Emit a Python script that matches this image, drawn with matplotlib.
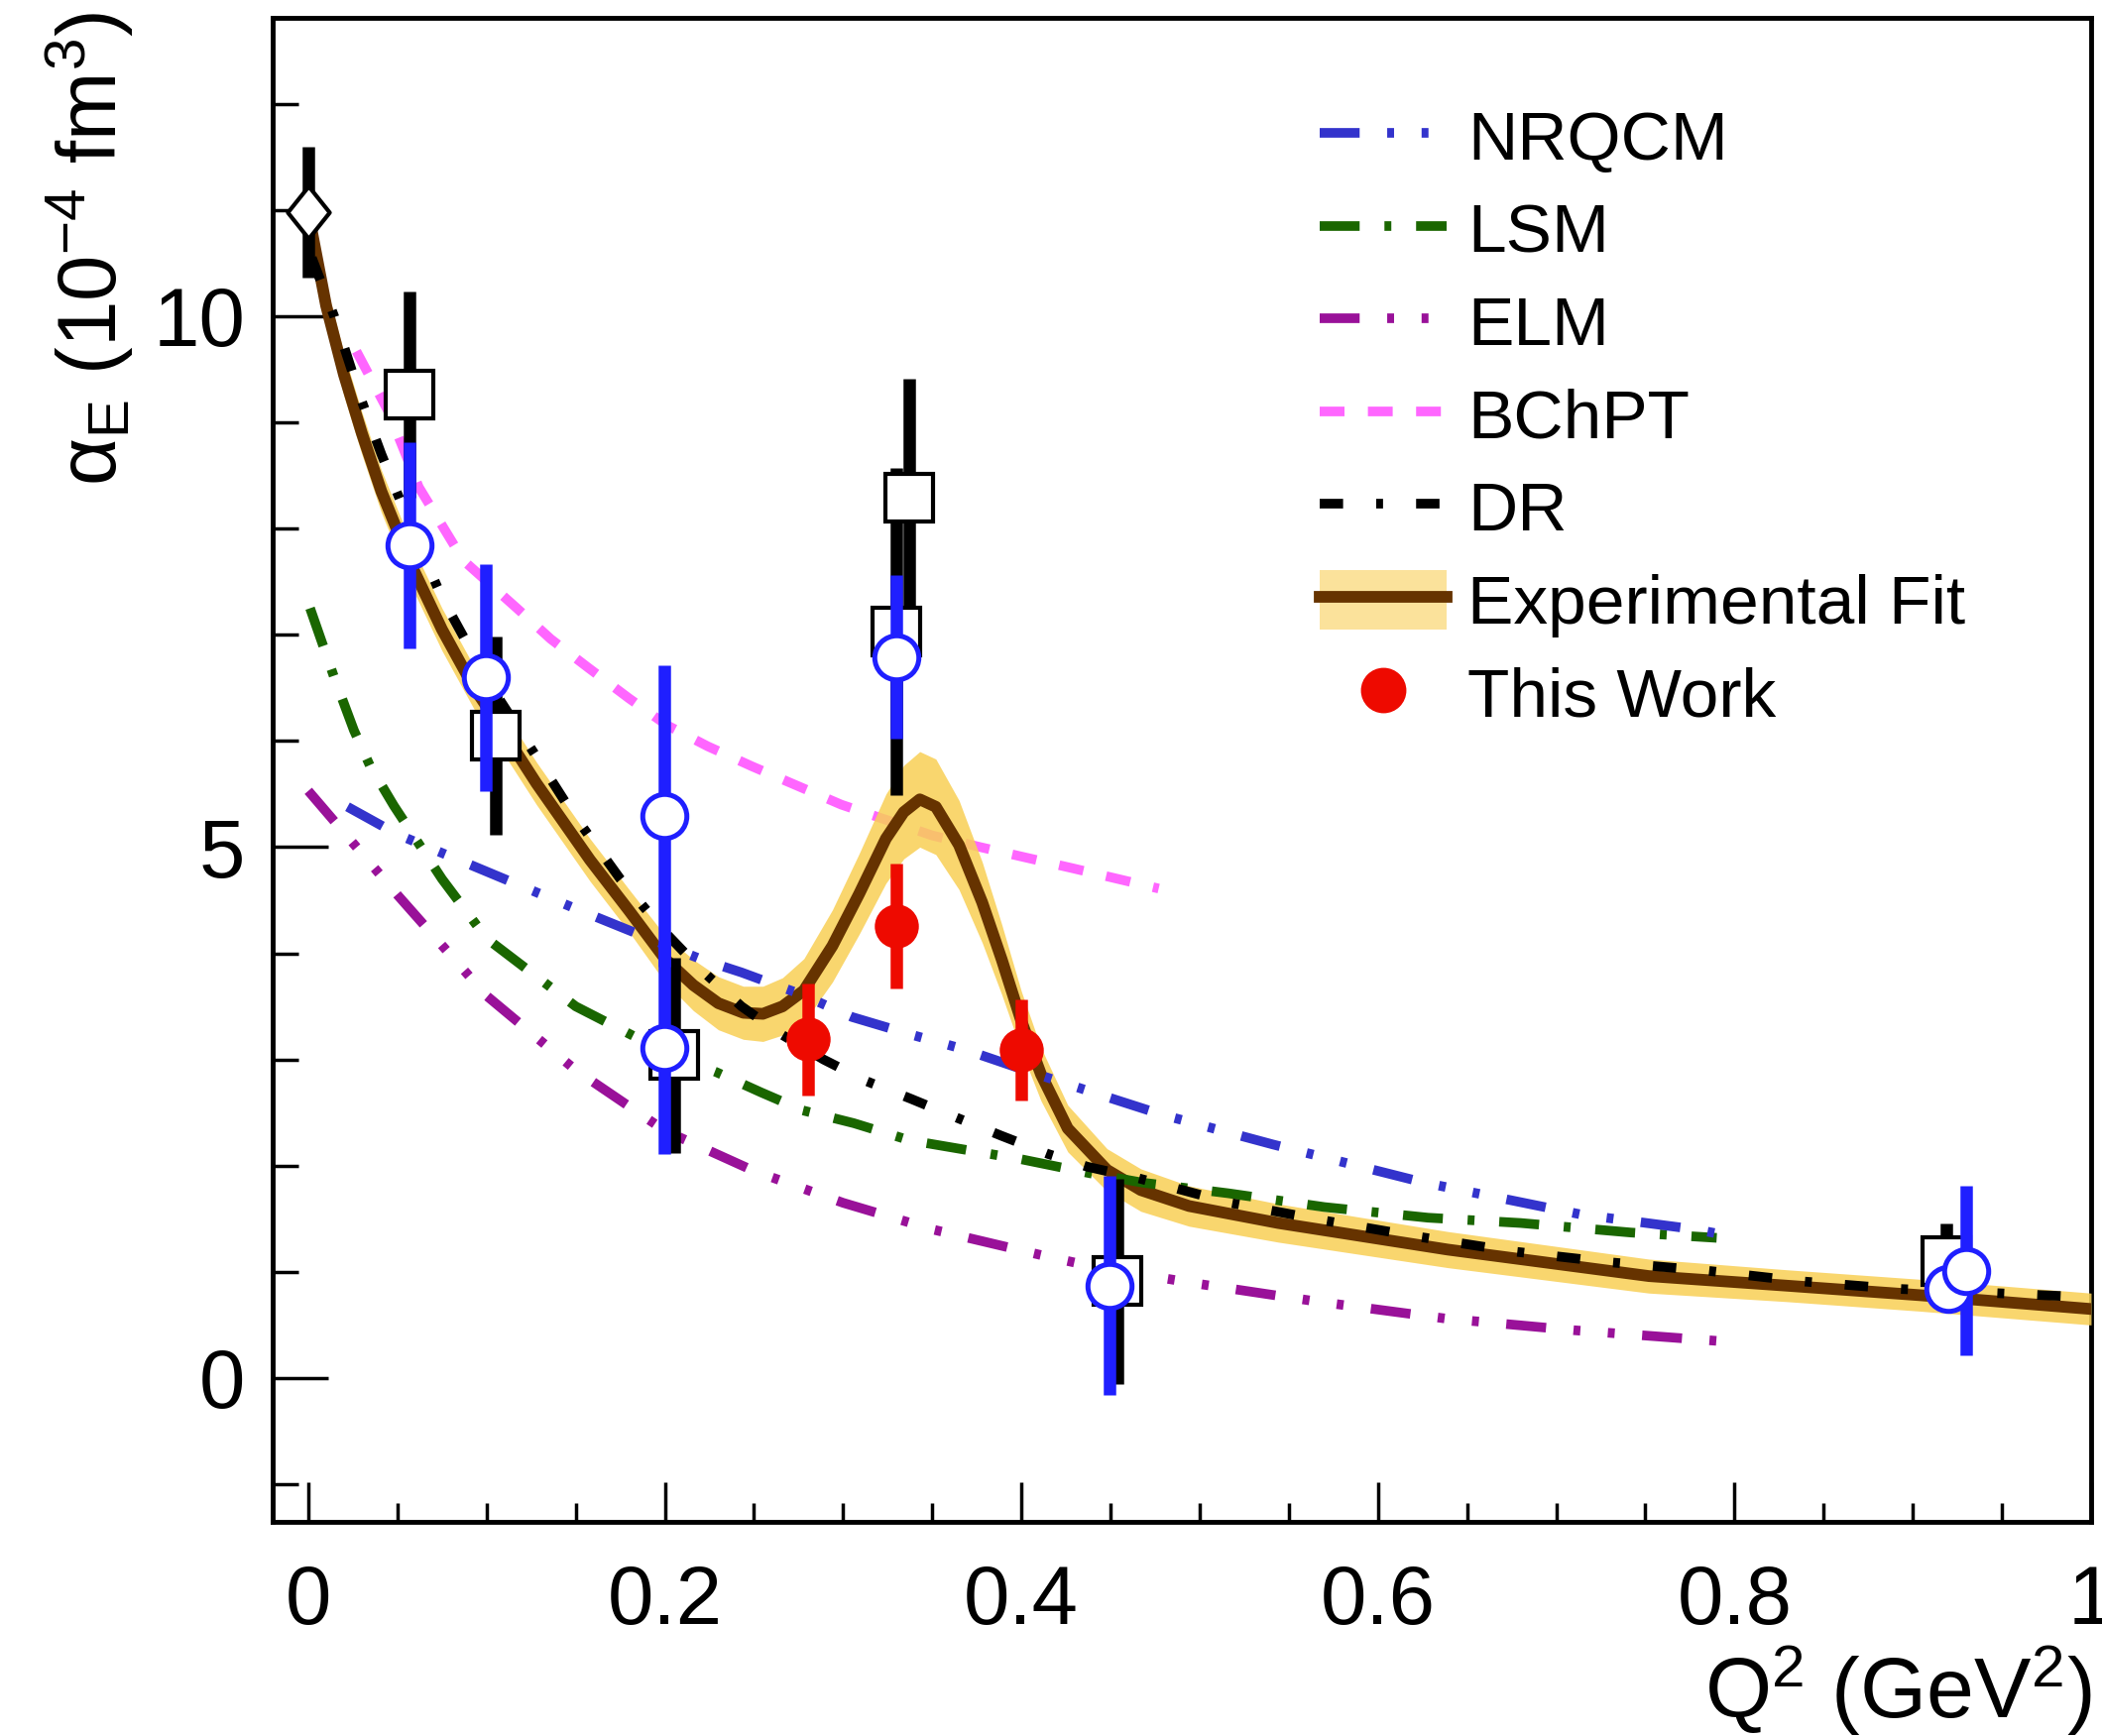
import matplotlib
matplotlib.use("Agg")
import matplotlib.pyplot as plt
from matplotlib.lines import Line2D
from matplotlib.patches import Patch
from matplotlib.ticker import MultipleLocator, FuncFormatter

plt.rcParams['font.family'] = ['Liberation Sans', 'DejaVu Sans']
plt.rcParams['mathtext.fontset'] = 'custom'
plt.rcParams['mathtext.rm'] = 'Liberation Sans'
plt.rcParams['mathtext.it'] = 'Liberation Sans'
plt.rcParams['mathtext.bf'] = 'Liberation Sans:bold'
plt.rcParams['lines.scale_dashes'] = False

# Experimental fit (line + band)
fit_q2 = [0.002, 0.010, 0.020, 0.030, 0.041, 0.058, 0.075, 0.093, 0.105, 0.128,
          0.158, 0.180, 0.200, 0.216, 0.230, 0.244, 0.255, 0.266, 0.278, 0.294,
          0.309, 0.324, 0.334, 0.343, 0.352, 0.365, 0.378, 0.389, 0.400, 0.411,
          0.426, 0.448, 0.467, 0.494, 0.544, 0.639, 0.752, 0.829, 0.904, 1.000]
fit_val = [10.80, 10.10, 9.45, 8.90, 8.35, 7.65, 7.05, 6.50, 6.20, 5.60,
           4.88, 4.40, 3.95, 3.70, 3.53, 3.44, 3.43, 3.50, 3.65, 4.07,
           4.56, 5.08, 5.33, 5.45, 5.38, 5.02, 4.48, 3.94, 3.36, 2.86,
           2.35, 1.96, 1.77, 1.62, 1.46, 1.21, 0.96, 0.87, 0.78, 0.65]
fit_err = [0.20, 0.20, 0.20, 0.20, 0.20, 0.20, 0.20, 0.20, 0.20, 0.20,
           0.20, 0.20, 0.22, 0.24, 0.25, 0.25, 0.26, 0.27, 0.30, 0.34,
           0.38, 0.42, 0.44, 0.45, 0.45, 0.42, 0.38, 0.33, 0.28, 0.25,
           0.22, 0.20, 0.20, 0.19, 0.18, 0.17, 0.16, 0.15, 0.15, 0.15]

# model curves
nrq_q2 = [0.022, 0.05, 0.10, 0.15, 0.20, 0.221, 0.243, 0.277, 0.305, 0.339,
          0.367, 0.409, 0.453, 0.479, 0.541, 0.626, 0.714, 0.778, 0.80]
nrq_val = [5.38, 5.12, 4.77, 4.42, 4.08, 3.94, 3.82, 3.61, 3.40, 3.23,
           3.10, 2.86, 2.62, 2.48, 2.20, 1.84, 1.54, 1.40, 1.33]

lsm_q2 = [0.001, 0.0145, 0.0256, 0.0345, 0.048, 0.075, 0.10, 0.15, 0.20, 0.229,
          0.254, 0.2775, 0.306, 0.337, 0.40, 0.438, 0.468, 0.516, 0.57, 0.628,
          0.68, 0.742, 0.79]
lsm_val = [7.25, 6.60, 6.10, 5.77, 5.39, 4.70, 4.14, 3.50, 3.07, 2.88,
           2.69, 2.52, 2.40, 2.24, 2.06, 1.93, 1.84, 1.74, 1.61, 1.51,
           1.46, 1.37, 1.32]

elm_q2 = [0.0, 0.05, 0.10, 0.15, 0.20, 0.25, 0.30, 0.35, 0.413, 0.44,
          0.498, 0.566, 0.638, 0.71, 0.79]
elm_val = [5.53, 4.55, 3.60, 2.90, 2.33, 1.95, 1.65, 1.40, 1.15, 1.05,
           0.89, 0.72, 0.56, 0.45, 0.35]

bch_q2 = [0.027, 0.045, 0.062, 0.087, 0.117, 0.136, 0.157, 0.18, 0.201, 0.224,
          0.249, 0.299, 0.35, 0.377, 0.429, 0.477]
bch_val = [9.67, 9.10, 8.39, 7.70, 7.25, 6.96, 6.69, 6.40, 6.15, 5.95,
           5.76, 5.40, 5.11, 5.00, 4.80, 4.61]

dr_q2 = [0.002, 0.0145, 0.030, 0.041, 0.058, 0.075, 0.093, 0.105, 0.128, 0.147,
         0.175, 0.200, 0.220, 0.243, 0.265, 0.289, 0.3125, 0.338, 0.364, 0.389,
         0.415, 0.437, 0.466, 0.517, 0.571, 0.623, 0.677, 0.730, 0.785, 0.838,
         0.891, 0.946, 1.0]
dr_val = [10.55, 10.00, 9.20, 8.70, 8.00, 7.35, 6.80, 6.45, 5.85, 5.35,
          4.70, 4.20, 3.85, 3.50, 3.24, 3.00, 2.80, 2.63, 2.45, 2.28,
          2.11, 1.99, 1.88, 1.65, 1.48, 1.33, 1.19, 1.09, 1.01, 0.91,
          0.84, 0.80, 0.76]

# data points
dia_q2 = [0.0]
dia_val = [10.98]
dia_err = [0.62]

sq_q2 = [0.057, 0.105, 0.205, 0.3298, 0.337, 0.454, 0.919]
sq_val = [9.26, 6.05, 3.04, 7.03, 8.29, 0.91, 1.10]
sq_err = [0.97, 0.93, 0.92, 1.54, 1.12, 0.97, 0.36]

circ_q2 = [0.057, 0.0996, 0.1997, 0.1997, 0.330, 0.4496, 0.9197, 0.930]
circ_val = [7.84, 6.60, 5.29, 3.11, 6.79, 0.87, 0.84, 1.01]
circ_err = [0.97, 1.07, 1.42, 1.00, 0.77, 1.03, 0.0, 0.80]

tw_q2 = [0.2803, 0.3298, 0.400]
tw_val = [3.19, 4.26, 3.09]
tw_err = [0.53, 0.59, 0.48]

# colours / styles
c_nrq = '#3333cc'
c_lsm = '#1a6600'
c_elm = '#991199'
c_bch = '#ff66ff'
c_dr = 'black'
c_fit = '#663300'
c_band = '#f8cf55'
c_red = '#ee0a00'
c_blue = '#1f1fff'

ls_nrq = (0, (29, 20, 5, 20, 5, 20))
ls_lsm = (0, (29, 18, 5, 18))
ls_elm = (0, (29, 20, 5, 20, 5, 20))
ls_bch = (0, (18, 17))
ls_dr = (0, (17, 24, 5, 24))
lw_mod = 7

fig = plt.figure(figsize=(21.2, 17.51), dpi=100)
ax = fig.add_axes([0.1297, 0.1234, 0.8651, 0.8663])

ax.plot(bch_q2, bch_val, color=c_bch, lw=lw_mod, ls=ls_bch, zorder=2)
ax.fill_between(fit_q2, [v - e for v, e in zip(fit_val, fit_err)],
                [v + e for v, e in zip(fit_val, fit_err)],
                color=c_band, alpha=0.85, lw=0, zorder=3)
ax.plot(fit_q2, fit_val, color=c_fit, lw=8.5, zorder=4)
ax.plot(lsm_q2, lsm_val, color=c_lsm, lw=lw_mod, ls=ls_lsm, zorder=5)
ax.plot(nrq_q2, nrq_val, color=c_nrq, lw=lw_mod, ls=ls_nrq, zorder=5)
ax.plot(elm_q2, elm_val, color=c_elm, lw=lw_mod, ls=ls_elm, zorder=5)
ax.plot(dr_q2, dr_val, color=c_dr, lw=lw_mod, ls=ls_dr, zorder=5)

diamond = [(0, 1), (0.8, 0), (0, -1), (-0.8, 0), (0, 1)]
ax.errorbar(dia_q2, dia_val, yerr=dia_err, fmt='none', ecolor='black',
            elinewidth=9, capsize=0, zorder=6)
ax.plot(dia_q2, dia_val, ls='none', marker=diamond, ms=38, mfc='white',
        mec='black', mew=3, zorder=6.5)
ax.errorbar(sq_q2, sq_val, yerr=sq_err, fmt='s', ms=34, mfc='white',
            mec='black', mew=3, ecolor='black', elinewidth=9, capsize=0,
            zorder=6)
ax.errorbar(circ_q2, circ_val, yerr=circ_err, fmt='o', ms=32, mfc='white',
            mec=c_blue, mew=3.6, ecolor=c_blue, elinewidth=9, capsize=0,
            zorder=7)
ax.errorbar(tw_q2, tw_val, yerr=tw_err, fmt='o', ms=31, mfc=c_red,
            mec=c_red, mew=1, ecolor=c_red, elinewidth=9, capsize=0,
            zorder=8)

ax.set_xlim(-0.020, 1.0)
ax.set_ylim(-1.354, 12.81)

ax.xaxis.set_major_locator(MultipleLocator(0.2))
ax.xaxis.set_minor_locator(MultipleLocator(0.05))
ax.yaxis.set_major_locator(MultipleLocator(5))
ax.yaxis.set_minor_locator(MultipleLocator(1))
ax.xaxis.set_major_formatter(FuncFormatter(lambda v, p: '%g' % round(v, 2)))
ax.yaxis.set_major_formatter(FuncFormatter(lambda v, p: '%g' % round(v, 2)))

ax.tick_params(axis='y', which='major', direction='in', length=40, width=2.5,
               labelsize=60, pad=20, right=False)
ax.tick_params(axis='y', which='minor', direction='in', length=19, width=2.5,
               right=False)
ax.tick_params(axis='x', which='major', direction='in', length=29, width=2.5,
               labelsize=60, pad=30, top=False)
ax.tick_params(axis='x', which='minor', direction='in', length=14, width=2.5,
               top=False)
for s in ax.spines.values():
    s.set_linewidth(3.5)

ax.set_xlabel(r'Q$^{2}$ (GeV$^{2}$)', fontsize=62, loc='right', labelpad=2)
ax.set_ylabel(r'$\alpha_{\mathrm{E}}$ (10$^{-4}$ fm$^{3}$)', fontsize=60,
              loc='top')
ax.yaxis.set_label_coords(-0.075, 1.004)

handles = [
    Line2D([], [], color=c_nrq, lw=lw_mod, ls=ls_nrq),
    Line2D([], [], color=c_lsm, lw=lw_mod, ls=ls_lsm),
    Line2D([], [], color=c_elm, lw=lw_mod, ls=ls_elm),
    Line2D([], [], color=c_bch, lw=lw_mod, ls=ls_bch),
    Line2D([], [], color=c_dr, lw=lw_mod, ls=ls_dr),
    (Patch(facecolor='#fbe29b', edgecolor='none'),
     Line2D([], [], color=c_fit, lw=8.5)),
    Line2D([], [], color=c_red, ls='none', marker='o', ms=32),
]
labels = ['NRQCM', 'LSM', 'ELM', 'BChPT', 'DR', 'Experimental Fit', 'This Work']
ax.legend(handles, labels, loc='upper left', bbox_to_anchor=(0.576, 0.941),
          frameon=False, fontsize=50, handlelength=1.84, handletextpad=0.3,
          labelspacing=0.37, handleheight=0.95, borderpad=0, borderaxespad=0)

fig.savefig('out.png', dpi=100)
